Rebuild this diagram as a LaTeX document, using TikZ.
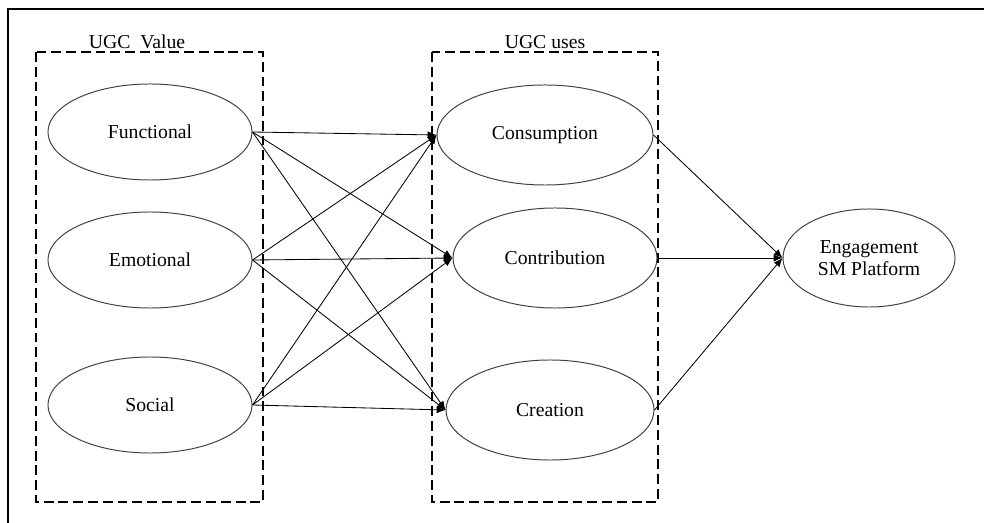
\documentclass[tikz,border=0pt]{standalone}
\usepackage{fontspec}
\setmainfont{Liberation Serif}
\usetikzlibrary{shapes.geometric,arrows.meta}
\begin{document}
\begin{tikzpicture}[x=0.025cm,y=-0.025cm,
	font=\fontsize{14}{16}\selectfont,
	valuebox/.style={draw, line width=1.3pt, dash pattern=on 7pt off 3.5pt},
	oval/.style={ellipse, draw=black!75, line width=0.7pt, minimum width=5.1cm, minimum height=2.4cm, align=center},
	link/.style={-{Latex[length=2.2mm,width=1.8mm]}, line width=0.6pt}]
	\useasboundingbox (0,0) rectangle (984,523);
	% frame
	\draw[line width=1.2pt] (8,523) -- (8,9) -- (984,9);
	% groups
	\draw[valuebox] (36,52) rectangle (263,502);
	\draw[valuebox] (432,52) rectangle (658,502);
	\node (valuelabel) at (137,42) {UGC\ \ Value};
	\node (useslabel) at (545,42) {UGC uses};
	% values
	\node[oval] (functional) at (150,132) {Functional};
	\node[oval] (emotional) at (150,260) {Emotional};
	\node[oval] (social) at (150,405) {Social};
	% uses
	\node[oval, minimum width=5.4cm, minimum height=2.5cm] (consumption) at (545,135) {Consumption};
	\node[oval, minimum width=5.1cm, minimum height=2.5cm] (contribution) at (555,258) {Contribution};
	\node[oval, minimum width=5.2cm, minimum height=2.5cm] (creation) at (550,410) {Creation};
	% outcome
	\node[oval, minimum width=4.3cm, minimum height=2.45cm] (engagement) at (869,258) {Engagement\\SM Platform};
	\foreach \src in {functional,emotional,social}
		\foreach \dst in {consumption,contribution,creation}
			\draw[link] (\src.east) -- (\dst.west);
	\foreach \src in {consumption,contribution,creation}
		\draw[link] (\src.east) -- (engagement.west);
\end{tikzpicture}
\end{document}
